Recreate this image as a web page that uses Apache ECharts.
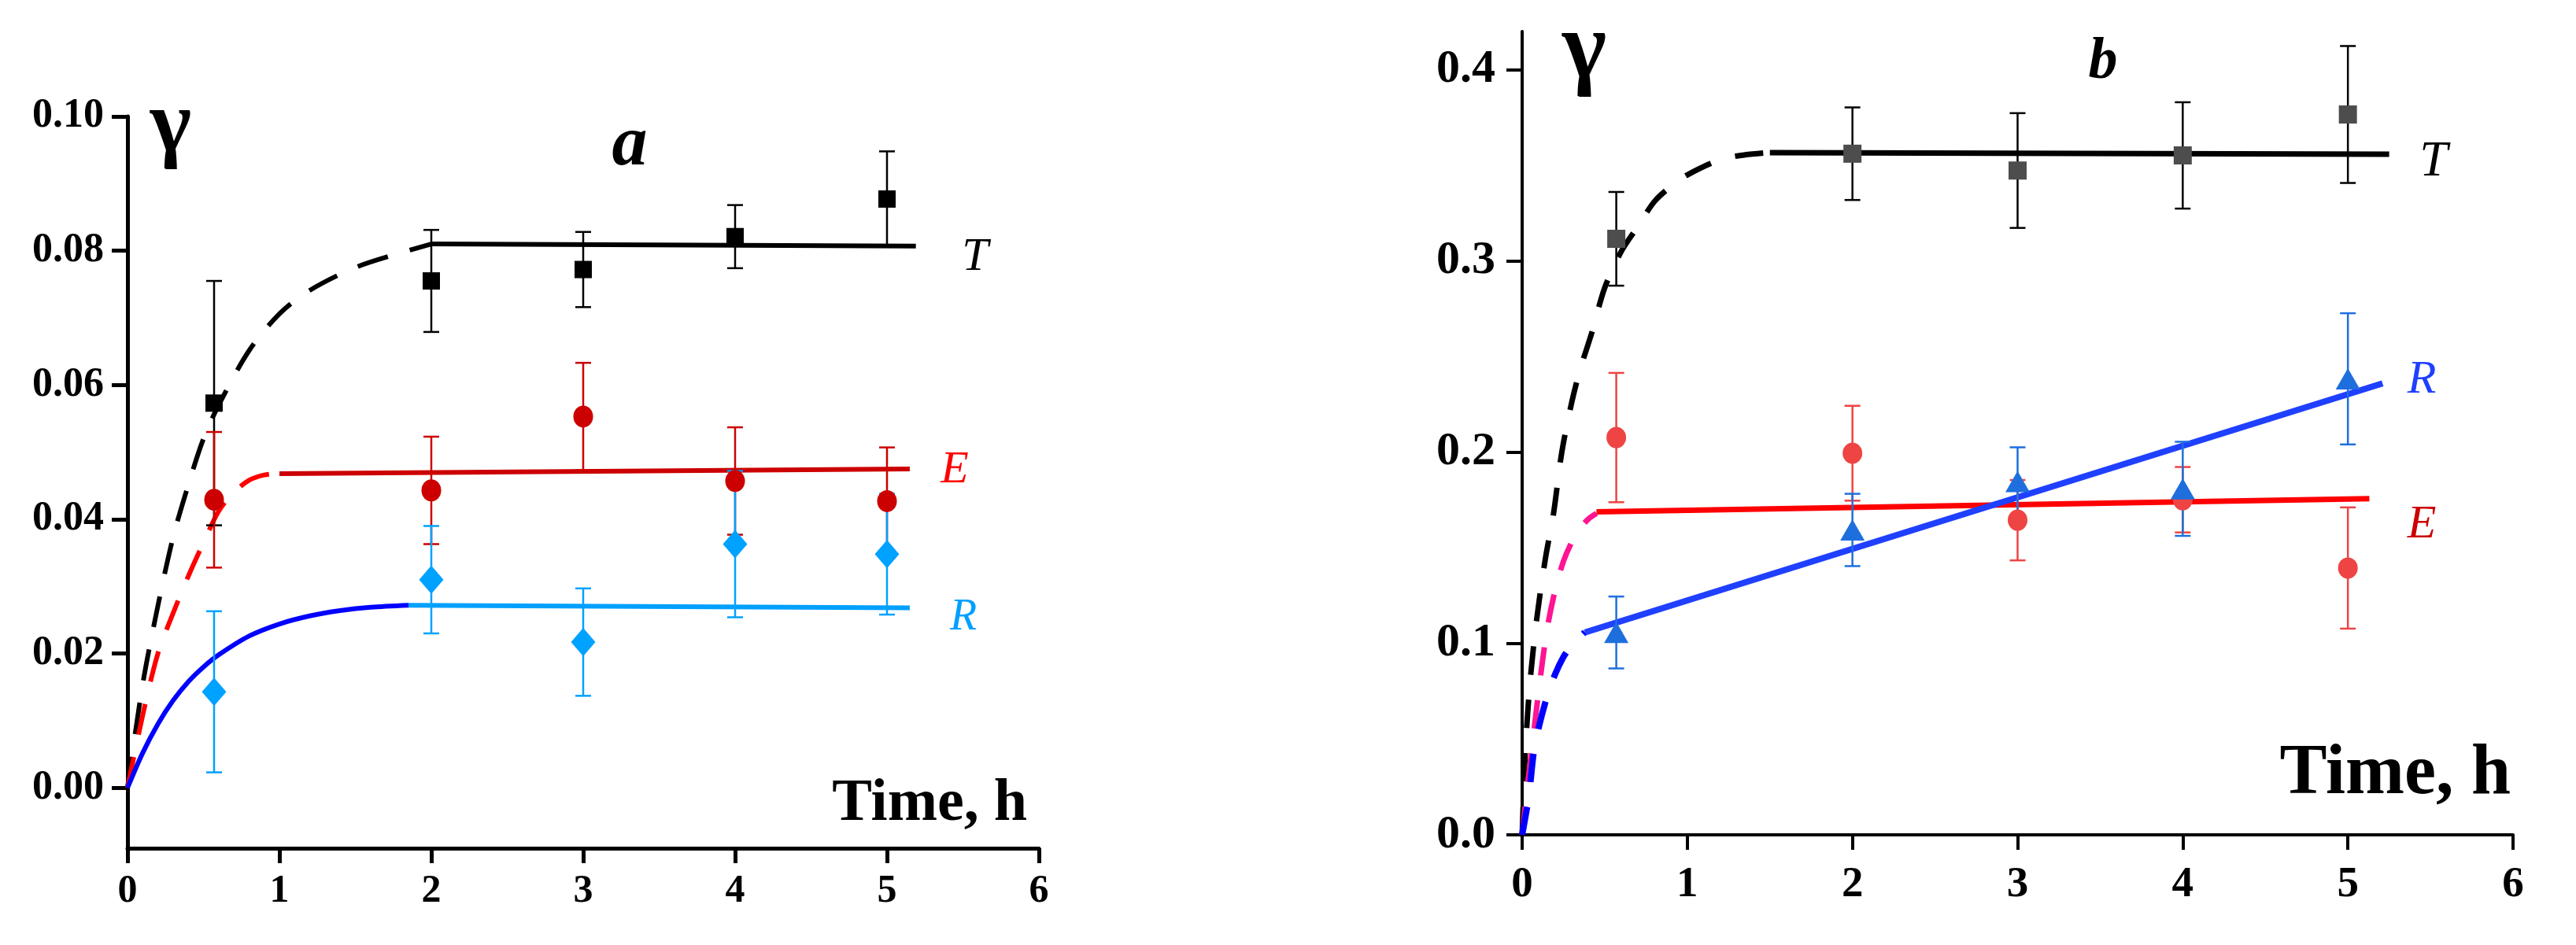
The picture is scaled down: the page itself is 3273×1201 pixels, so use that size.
<!DOCTYPE html>
<html>
<head>
<meta charset="utf-8">
<script src="https://cdn.jsdelivr.net/npm/echarts@6/dist/echarts.min.js"></script>
<style>
  html, body { margin: 0; padding: 0; background: #fff; }
  #chart { width: 3273px; height: 1201px; }
</style>
</head>
<body>
<div id="chart"></div>
<script>
// ---- panel a ----
const timesA = [0.57, 2, 3, 4, 5];
const aT = [0.0573, 0.0755, 0.0772, 0.0821, 0.0877];
const aTErr = [0.0182, 0.0076, 0.0056, 0.0047, 0.0071];
const aE = [0.0429, 0.0443, 0.0553, 0.0457, 0.0427];
const aEErr = [0.0101, 0.0080, 0.0080, 0.0080, 0.0080];
const aR = [0.0143, 0.0310, 0.0217, 0.0363, 0.0348];
const aRErr = [0.0120, 0.0080, 0.0080, 0.0109, 0.0090];

// fitted curves
const aTDash = [[0, 0], [0.1, 0.0154], [0.2, 0.0271], [0.3, 0.0373], [0.4, 0.0451], [0.5, 0.0520],
  [0.6, 0.0570], [0.8, 0.0651], [1.0, 0.0706], [1.2, 0.0741], [1.5, 0.0775], [1.8, 0.0797], [2.0, 0.0810]];
const aTFit = [[2.0, 0.0810], [5.19, 0.0807]];
const aEDash = [[0, 0], [0.1, 0.0108], [0.2, 0.0200], [0.3, 0.0260], [0.4, 0.0315], [0.5, 0.0365],
  [0.6, 0.0412], [0.7, 0.0440], [0.8, 0.0458], [0.9, 0.0466], [1.0, 0.0468]];
const aEFit = [[1.0, 0.0468], [5.15, 0.0475]];
const aRCurve = [[0, 0], [0.1, 0.0052], [0.2, 0.0095], [0.3, 0.0130], [0.4, 0.0158], [0.5, 0.0180],
  [0.6, 0.0198], [0.8, 0.0226], [1.0, 0.0244], [1.2, 0.0256], [1.4, 0.0264], [1.6, 0.0269], [1.85, 0.0272]];
const aRFit = [[1.85, 0.0272], [5.15, 0.0268]];
const ticksA = [0, 0.02, 0.04, 0.06, 0.08, 0.10];

// ---- panel b ----
const timesB = [0.57, 2, 3, 4, 5];
const bT = [0.3116, 0.3561, 0.3473, 0.3552, 0.3766];
const bTErr = [0.0245, 0.0242, 0.0300, 0.0278, 0.0358];
const bE = [0.2077, 0.1995, 0.1645, 0.1752, 0.1395];
const bEErr = [0.0338, 0.0248, 0.0210, 0.0171, 0.0317];
const bR = [0.1058, 0.1594, 0.1847, 0.1809, 0.2384];
const bRErr = [0.0188, 0.0189, 0.0179, 0.0246, 0.0343];

const bTDash = [[0, 0], [0.02, 0.045], [0.05, 0.082], [0.09, 0.114], [0.14, 0.144], [0.19, 0.168],
  [0.24, 0.200], [0.3, 0.226], [0.35, 0.243], [0.42, 0.262], [0.5, 0.286], [0.6, 0.305], [0.7, 0.318],
  [0.8, 0.331], [0.9, 0.339], [1.0, 0.345], [1.2, 0.353], [1.35, 0.3555], [1.5, 0.3567]];
const bTFit = [[1.5, 0.3567], [5.25, 0.3558]];
const bEDash = [[0, 0], [0.03, 0.024], [0.06, 0.046], [0.1, 0.075], [0.15, 0.107], [0.2, 0.128],
  [0.25, 0.143], [0.3, 0.153], [0.35, 0.160], [0.4, 0.165], [0.45, 0.168]];
const bEFit = [[0.45, 0.1689], [5.13, 0.1758]];
const bRDash = [[0, 0], [0.04, 0.020], [0.07, 0.043], [0.1, 0.056], [0.15, 0.072], [0.2, 0.084],
  [0.25, 0.093], [0.3, 0.099], [0.38, 0.106]];
const bRFit = [[0.38, 0.1058], [5.21, 0.236]];
const ticksB = [0, 0.1, 0.2, 0.3, 0.4];

const serif = '"Liberation Serif", "Times New Roman", serif';

function errorBars(times, vals, errs, color, axis, capW, lw) {
  return {
    type: 'custom',
    xAxisIndex: axis,
    yAxisIndex: axis,
    z: 3,
    silent: true,
    data: times.map((t, i) => [t, vals[i] - errs[i], vals[i] + errs[i]]),
    renderItem: (params, api) => {
      const lo = api.coord([api.value(0), api.value(1)]);
      const hi = api.coord([api.value(0), api.value(2)]);
      const h = capW / 2;
      const st = { stroke: color, lineWidth: lw };
      return {
        type: 'group',
        children: [
          { type: 'line', shape: { x1: lo[0], y1: lo[1], x2: hi[0], y2: hi[1] }, style: st },
          { type: 'line', shape: { x1: lo[0] - h, y1: lo[1], x2: lo[0] + h, y2: lo[1] }, style: st },
          { type: 'line', shape: { x1: hi[0] - h, y1: hi[1], x2: hi[0] + h, y2: hi[1] }, style: st }
        ]
      };
    }
  };
}

function points(times, vals, axis, symbol, size, color) {
  return {
    type: 'scatter', xAxisIndex: axis, yAxisIndex: axis, z: 5,
    symbol: symbol, symbolSize: size,
    itemStyle: { color: color, opacity: 1 },
    data: times.map((t, i) => [t, vals[i]])
  };
}

function curve(data, axis, color, width, dashed, smooth) {
  return {
    type: 'line', xAxisIndex: axis, yAxisIndex: axis, z: 2,
    showSymbol: false, smooth: smooth ? 0.3 : false,
    lineStyle: { color: color, width: width, type: dashed || 'solid' },
    data: data
  };
}

function yAxis(grid, min, max, ticks, digits, fontSize, margin, lw) {
  return {
    type: 'value', gridIndex: grid, min: min, max: max,
    splitLine: { show: false },
    axisLine: { show: true, onZero: false, lineStyle: { color: '#000', width: lw } },
    axisTick: { show: true, inside: false, length: 20, customValues: ticks, lineStyle: { color: '#000', width: lw } },
    axisLabel: {
      customValues: ticks, margin: margin, color: '#000',
      fontFamily: serif, fontWeight: 'bold', fontSize: fontSize,
      formatter: v => v.toFixed(digits)
    }
  };
}

function xAxis(grid, fontSize, margin, lw) {
  return {
    type: 'value', gridIndex: grid, min: 0, max: 6, interval: 1,
    splitLine: { show: false },
    axisLine: { show: true, onZero: false, lineStyle: { color: '#000', width: lw } },
    axisTick: { show: true, inside: false, length: 19, lineStyle: { color: '#000', width: lw } },
    axisLabel: {
      margin: margin, color: '#000',
      fontFamily: serif, fontWeight: 'bold', fontSize: fontSize
    }
  };
}

function label(text, x, y, size, color, style, align) {
  return {
    type: 'text', x: x, y: y, z: 10,
    style: {
      text: text, fill: color,
      font: style + ' ' + size + 'px ' + serif,
      textAlign: align || 'center', textVerticalAlign: 'middle'
    }
  };
}

const chart = echarts.init(document.getElementById('chart'), null, { renderer: 'canvas' });

const option = {
  animation: false,
  backgroundColor: '#fff',
  grid: [
    { left: 162, top: 148, width: 1158, height: 930 },
    { left: 1934, top: 40, width: 1259, height: 1021 }
  ],
  xAxis: [xAxis(0, 50, 30, 5), xAxis(1, 55, 36, 4)],
  yAxis: [
    yAxis(0, -0.009, 0.10, ticksA, 2, 52, 30, 5),
    yAxis(1, 0, 0.42, ticksB, 1, 60, 34, 4)
  ],
  graphic: [
    label('γ', 217, 162, 112, '#000', 'bold'),
    label('a', 800, 186, 90, '#000', 'italic bold'),
    label('T', 1239, 327, 60, '#000', 'italic'),
    label('E', 1213, 598, 58, '#ff0000', 'italic'),
    label('R', 1224, 785, 56, '#00a0ff', 'italic'),
    label('Time, h', 1305, 1022, 76, '#000', 'bold', 'right'),
    label('γ', 2013, 66, 120, '#000', 'bold'),
    label('b', 2672, 80, 74, '#000', 'italic bold'),
    label('T', 3092, 206, 64, '#000', 'italic'),
    label('R', 3077, 483, 60, '#2040ff', 'italic'),
    label('E', 3077, 667, 60, '#cc0000', 'italic'),
    label('Time, h', 3190, 985, 90, '#000', 'bold', 'right')
  ],
  series: [
    // panel a
    curve(aTDash, 0, '#000', 6, [40, 29], true),
    curve(aTFit, 0, '#000', 6),
    curve(aEDash, 0, '#ff0000', 6, [40, 29], true),
    curve(aEFit, 0, '#cc0000', 6),
    curve(aRCurve, 0, '#0000ff', 6, null, true),
    curve(aRFit, 0, '#00a0ff', 6),
    errorBars(timesA, aT, aTErr, '#000', 0, 20, 2.5),
    errorBars(timesA, aE, aEErr, '#cc0000', 0, 20, 2.5),
    errorBars(timesA, aR, aRErr, '#00a2ff', 0, 20, 2.5),
    points(timesA, aT, 0, 'rect', 22, '#000'),
    points(timesA, aE, 0, 'circle', [25, 28], '#cc0000'),
    points(timesA, aR, 0, 'diamond', [31, 36], '#00a2ff'),
    // panel b
    curve(bTDash, 1, '#000', 7, [36, 32], true),
    curve(bTFit, 1, '#000', 7),
    curve(bEDash, 1, '#ff1493', 7, [36, 32], true),
    curve(bEFit, 1, '#ff0000', 7),
    curve(bRDash, 1, '#0000ff', 8, [36, 32], true),
    curve(bRFit, 1, '#2040ff', 8),
    errorBars(timesB, bT, bTErr, '#000', 1, 20, 2.5),
    errorBars(timesB, bE, bEErr, '#ee4444', 1, 20, 2.5),
    errorBars(timesB, bR, bRErr, '#1e6fdd', 1, 20, 2.5),
    points(timesB, bT, 1, 'rect', 23, '#4d4d4d'),
    points(timesB, bE, 1, 'circle', [25, 27], '#ee4444'),
    points(timesB, bR, 1, 'triangle', [31, 27], '#1e6fdd')
  ]
};

chart.setOption(option);
</script>
</body>
</html>
